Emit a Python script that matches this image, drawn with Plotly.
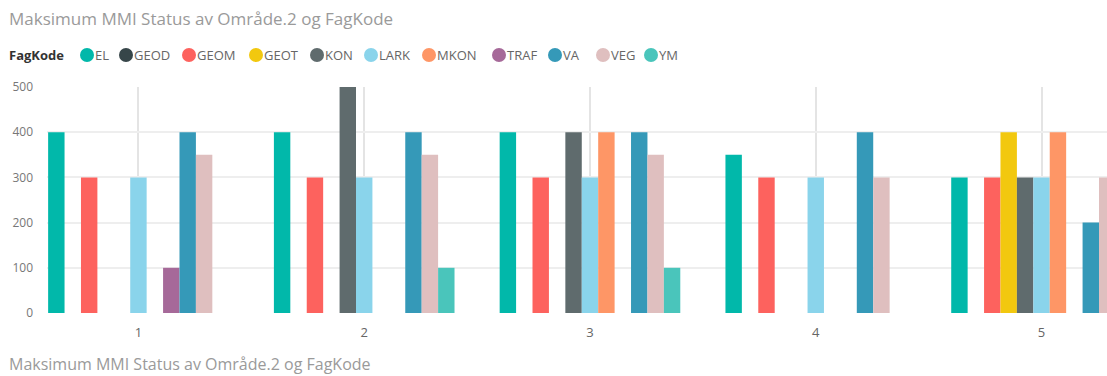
import plotly.graph_objects as go

# ---- data ----
areas = [1, 2, 3, 4, 5]
fagkoder = ["EL", "GEOD", "GEOM", "GEOT", "KON", "LARK", "MKON", "TRAF", "VA", "VEG", "YM"]
colors = ["#01B8AA", "#374649", "#FD625E", "#F2C80F", "#5F6B6D", "#8AD4EB",
          "#FE9666", "#A66999", "#3599B8", "#DFBFBF", "#4AC5BB"]

EL   = [400, 400, 400, 350, 300]
GEOD = [None, None, None, None, None]
GEOM = [300, 300, 300, 300, 300]
GEOT = [None, None, None, None, 400]
KON  = [None, 500, 400, None, 300]
LARK = [300, 300, 300, 300, 300]
MKON = [None, None, 400, None, 400]
TRAF = [100, None, None, None, None]
VA   = [400, 400, 400, 400, 200]
VEG  = [350, 350, 350, 300, 300]
YM   = [None, 100, 100, None, None]
series = [EL, GEOD, GEOM, GEOT, KON, LARK, MKON, TRAF, VA, VEG, YM]

title_text = "Maksimum MMI Status av Område.2 og FagKode"
legend_title = "FagKode"
y_ticks = [0, 100, 200, 300, 400, 500]

# ---- layout constants (pixels) ----
W, H = 1107, 376
ML, MR, MT, MB = 47, 0, 87, 63
PW, PH = W - ML - MR, H - MT - MB
FONT = "Segoe UI, Open Sans, sans-serif"
legend_y_px = 55
legend_marker_cx = [87, 126, 189, 256, 317, 371, 429, 499, 555, 603, 651]  # circle centres


def px_x(px):
    return (px - ML) / PW


def px_y(py):
    return (H - MB - py) / PH


fig = go.Figure()
for name, vals, col in zip(fagkoder, series, colors):
    fig.add_trace(go.Bar(x=areas, y=vals, name=name, marker_color=col,
                         marker_line_width=0, showlegend=False))

shapes = []
annotations = [
    dict(text=title_text, xref="paper", yref="paper", x=px_x(7), y=px_y(18),
         xanchor="left", yanchor="middle", showarrow=False,
         font=dict(family=FONT, size=17, color="#9a9a9a")),
    dict(text="<b>" + legend_title + "</b>", xref="paper", yref="paper",
         x=px_x(7), y=px_y(legend_y_px), xanchor="left", yanchor="middle",
         showarrow=False, font=dict(family=FONT, size=13, color="#333333")),
    dict(text=title_text, xref="paper", yref="paper", x=px_x(7), y=px_y(364),
         xanchor="left", yanchor="middle", showarrow=False,
         font=dict(family=FONT, size=16, color="#9a9a9a")),
]
r = 7
for name, col, cx in zip(fagkoder, colors, legend_marker_cx):
    shapes.append(dict(type="circle", xref="paper", yref="paper",
                       xsizemode="pixel", ysizemode="pixel",
                       xanchor=px_x(cx), yanchor=px_y(legend_y_px),
                       x0=-r, x1=r, y0=-r, y1=r,
                       fillcolor=col, line=dict(width=0)))
    annotations.append(dict(text=name, xref="paper", yref="paper",
                            x=px_x(cx + r - 1), y=px_y(legend_y_px),
                            xanchor="left", yanchor="middle", showarrow=False,
                            font=dict(family=FONT, size=13, color="#666666")))

fig.update_layout(
    width=W, height=H,
    margin=dict(l=ML, r=MR, t=MT, b=MB),
    paper_bgcolor="white", plot_bgcolor="white",
    barmode="group", bargap=0.2, bargroupgap=0,
    showlegend=False,
    font=dict(family=FONT, size=12, color="#777777"),
    xaxis=dict(range=[0.595, 5.29], tickmode="array", tickvals=areas,
               ticktext=[str(a) for a in areas], showgrid=True,
               gridcolor="#e4e4e4", gridwidth=1.5, zeroline=False, showline=False,
               ticks="", ticklabelstandoff=10, tickfont=dict(size=13, color="#666666")),
    yaxis=dict(range=[0, 500], tickmode="array", tickvals=y_ticks, showgrid=True,
               gridcolor="#eeeeee", gridwidth=1.5, zeroline=False, showline=False,
               ticks="", ticklabelstandoff=13, tickfont=dict(size=12, color="#777777")),
    shapes=shapes,
    annotations=annotations,
)

fig.write_html("out.html")
